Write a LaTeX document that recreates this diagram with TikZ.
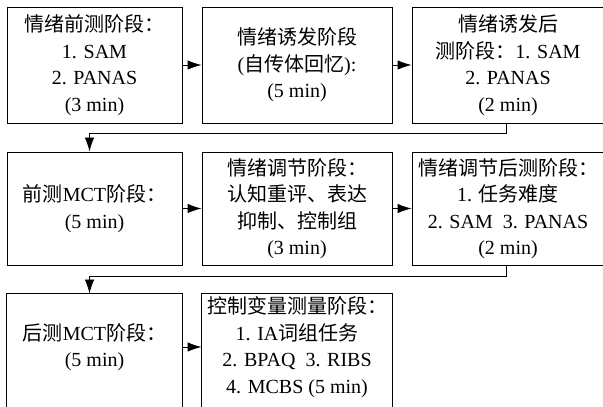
\documentclass[tikz,border=0pt]{standalone}
\usepackage{fontspec}
\setmainfont{Liberation Serif}
\newfontfamily\cjk{Noto Sans CJK SC}
\newcommand\zh[1]{{\cjk #1}}
\usetikzlibrary{arrows.meta,positioning}

\begin{document}
\begin{tikzpicture}[x=1pt,y=1pt,
  stage/.style={draw,line width=0.9pt,align=center,inner sep=2pt,
    font=\fontsize{20}{26.5}\selectfont},
  openstage/.style={stage,draw=none},
  arr/.style={line width=0.9pt,-{Latex[length=14pt,width=9.5pt]}}]
  \clip (0,0) rectangle (603,407);
  % row 1
  \node[stage,minimum width=175,minimum height=116] (pre) at (94.5,342)
    {\zh{情绪前测阶段：}\\1. SAM\\2. PANAS\\(3 min)};
  \node[stage,minimum width=190,minimum height=116] (induce) at (297,342)
    {\zh{情绪诱发阶段}\\(\zh{自传体回忆}):\\(5 min)};
  \node[stage,minimum width=192,minimum height=116] (postind) at (508,342)
    {\zh{情绪诱发后}\\\zh{测阶段：}1. SAM\\2. PANAS\\(2 min)};
  % row 2
  \node[stage,minimum width=175,minimum height=113] (premct) at (94.5,198.5)
    {\zh{前测}MCT\zh{阶段：}\\(5 min)};
  \node[stage,minimum width=190,minimum height=113] (regul) at (297,198.5)
    {\zh{情绪调节阶段：}\\\zh{认知重评、表达}\\\zh{抑制、控制组}\\(3 min)};
  \node[stage,minimum width=192,minimum height=113] (postreg) at (508,198.5)
    {\zh{情绪调节后测阶段：}\\1. \zh{任务难度}\\2. SAM\ \ 3. PANAS\\(2 min)};
  % row 3 (cut off at the bottom)
  \node[openstage,minimum width=175,minimum height=106] (postmct) at (94.5,60)
    {\zh{后测}MCT\zh{阶段：}\\(5 min)};
  \node[openstage,minimum width=190,minimum height=106] (control) at (297,60)
    {\zh{控制变量测量阶段：}\\1. IA\zh{词组任务}\\2. BPAQ\ \ 3. RIBS\\4. MCBS (5 min)};
  \foreach \b in {postmct,control}
    \draw[line width=0.9pt] ([yshift=-12pt]\b.south west) |- (\b.north east)
      -- ([yshift=-12pt]\b.south east);
  % connectors
  \draw[arr] (pre) -- (induce);
  \draw[arr] (induce) -- (postind);
  \draw[arr] ([xshift=-2pt]postind.south) -- ++(0,-10) -| ([xshift=-5pt]premct.north);
  \draw[arr] (premct) -- (regul);
  \draw[arr] (regul) -- (postreg);
  \draw[arr] ([xshift=-2pt]postreg.south) -- ++(0,-11) -| ([xshift=-5pt]postmct.north);
  \draw[arr] (postmct) -- (control);
\end{tikzpicture}
\end{document}
